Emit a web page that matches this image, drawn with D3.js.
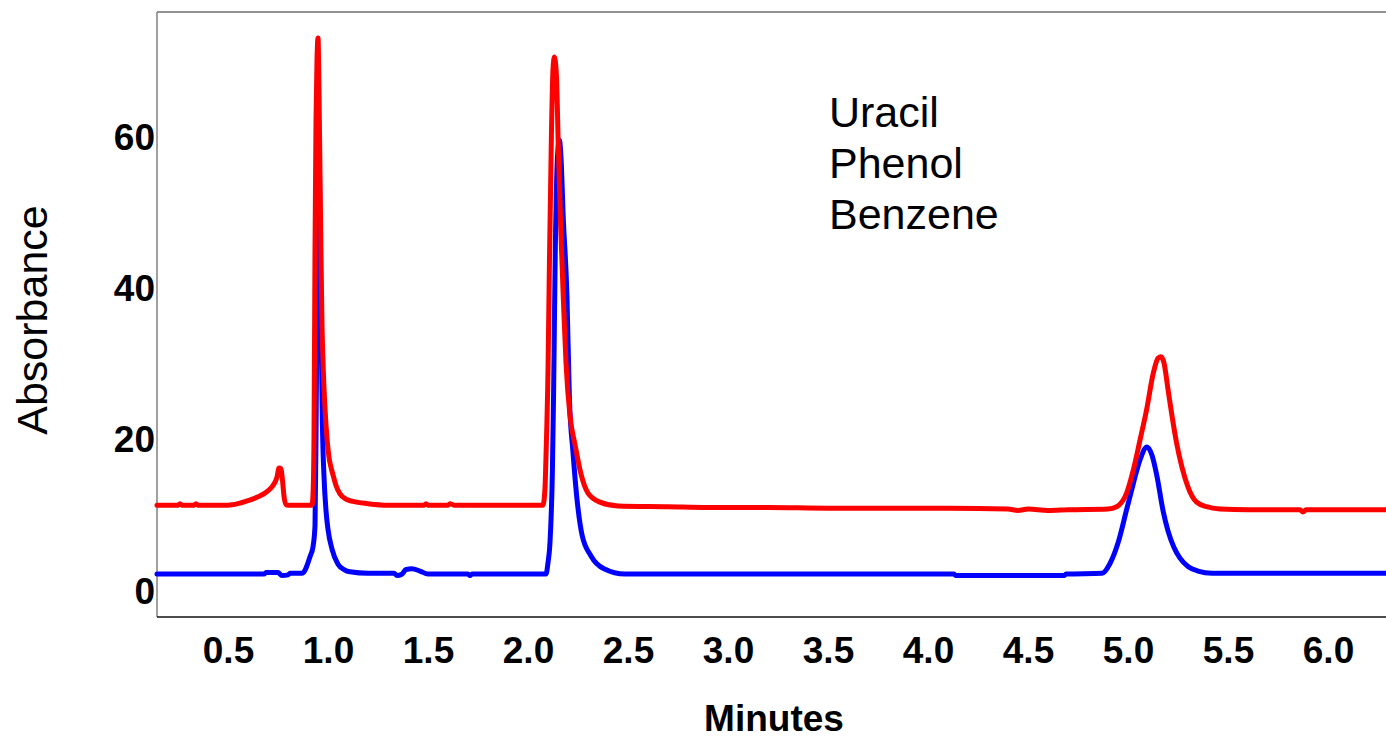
<!DOCTYPE html>
<html>
<head>
<meta charset="utf-8">
<script src="https://cdn.jsdelivr.net/npm/d3@7"></script>
<style>
  body { margin: 0; background: #fff; }
  text { font-family: "Liberation Sans", Arial, sans-serif; }
</style>
</head>
<body>
<div id="chart"></div>
<script>
// chromatogram traces [minutes, absorbance]
const redTrace = [
  [0.145, 11.2], [0.25, 11.2], [0.26, 11.4], [0.27, 11.2], [0.33, 11.2], [0.34, 11.4], [0.35, 11.2],
  [0.5, 11.2], [0.55, 11.4], [0.6, 11.8], [0.65, 12.3], [0.7, 13.1], [0.725, 13.8], [0.745, 14.9],
  [0.755, 16.1], [0.765, 16.0], [0.772, 14.6], [0.78, 12.4], [0.79, 11.3], [0.8, 11.2],
  [0.92, 11.2], [0.925, 12.6], [0.93, 20], [0.935, 45], [0.94, 62], [0.945, 70], [0.95, 72.9],
  [0.955, 66], [0.96, 55], [0.965, 44], [0.97, 35], [0.978, 28], [0.985, 24], [0.995, 20],
  [1.005, 17.5], [1.015, 16.2], [1.025, 15.2], [1.04, 13.8], [1.06, 12.7], [1.09, 12.0],
  [1.125, 11.7], [1.2, 11.4], [1.3, 11.2], [1.48, 11.2], [1.49, 11.4], [1.5, 11.2], [1.6, 11.2],
  [1.61, 11.4], [1.63, 11.2], [2.075, 11.2], [2.085, 13.5], [2.09, 17.7], [2.1, 29], [2.107, 43],
  [2.117, 60], [2.125, 68.8], [2.132, 70.4], [2.142, 68], [2.152, 58], [2.162, 49], [2.178, 37.6],
  [2.19, 30], [2.21, 23], [2.235, 19.2], [2.265, 15.3], [2.3, 12.8], [2.36, 11.6], [2.45, 11.1],
  [2.7, 11.0], [2.9, 10.9], [3.2, 10.9], [3.5, 10.8], [3.8, 10.8], [4.1, 10.8], [4.4, 10.7],
  [4.45, 10.5], [4.5, 10.7], [4.6, 10.5], [4.7, 10.6], [4.9, 10.7], [4.943, 11.0], [4.993, 12.8],
  [5.027, 15.9], [5.06, 19.8], [5.093, 23.8], [5.127, 28.7], [5.15, 30.6], [5.165, 30.8],
  [5.18, 30.0], [5.2, 26.5], [5.22, 23.0], [5.243, 19.4], [5.27, 16.2], [5.3, 13.6], [5.343, 11.6],
  [5.393, 11.0], [5.46, 10.7], [5.6, 10.6], [5.86, 10.6], [5.875, 10.3], [5.89, 10.6], [6.29, 10.6]
]

const blueTrace = [
  [0.145, 2.1], [0.68, 2.1], [0.69, 2.3], [0.75, 2.3], [0.77, 1.9], [0.8, 2.0], [0.81, 2.2],
  [0.87, 2.2], [0.885, 2.6], [0.9, 3.6], [0.91, 4.4], [0.925, 5.7], [0.935, 8.5], [0.94, 20],
  [0.945, 38], [0.95, 52], [0.956, 56], [0.962, 44], [0.967, 32], [0.972, 22], [0.98, 15],
  [0.99, 10.5], [1.0, 8], [1.02, 5.4], [1.05, 3.4], [1.08, 2.7], [1.11, 2.4], [1.2, 2.2],
  [1.33, 2.2], [1.345, 1.9], [1.37, 2.1], [1.39, 2.7], [1.42, 2.8], [1.46, 2.5], [1.5, 2.1],
  [1.7, 2.1], [1.71, 1.9], [1.72, 2.1], [2.09, 2.1], [2.1, 3.6], [2.11, 6.3], [2.122, 15.8],
  [2.128, 26], [2.136, 44], [2.148, 57.5], [2.157, 59.4], [2.167, 56], [2.175, 50], [2.195, 38.6],
  [2.207, 25.4], [2.225, 18.2], [2.245, 12], [2.27, 7.3], [2.315, 4.5], [2.38, 2.8], [2.485, 2.1],
  [4.13, 2.1], [4.14, 1.9], [4.68, 1.9], [4.69, 2.1], [4.87, 2.2], [4.91, 3.5], [4.95, 6.2],
  [4.993, 10.6], [5.027, 14.1], [5.06, 17.2], [5.095, 18.9], [5.12, 17.8], [5.145, 15.0],
  [5.175, 10.5], [5.2, 7.8], [5.23, 5.6], [5.26, 4.2], [5.3, 3.1], [5.35, 2.5], [5.42, 2.2],
  [6.29, 2.2]
]

const xTicks = [0.5, 1.0, 1.5, 2.0, 2.5, 3.0, 3.5, 4.0, 4.5, 5.0, 5.5, 6.0]
const yTicks = [0, 20, 40, 60]
const legendLabels = ["Uracil", "Phenol", "Benzene"]

// sizes
let width = 1386
let height = 738
let margin = {top: 12, right: 0, bottom: 121, left: 157}
let w = width - margin.left - margin.right
let h = height - margin.top - margin.bottom

let svg = d3.select("#chart")
  .append("svg")
  .attr("width", width)
  .attr("height", height)

let g = svg.append("g")
  .attr("transform", `translate(${margin.left},${margin.top})`)

let x = d3.scaleLinear().domain([0.145, 6.29]).range([0, w])
let y = d3.scaleLinear().domain([-3.57, 76.35]).range([h, 0])

// x axis, labels only
g.append("g")
  .attr("transform", `translate(0,${h})`)
  .call(d3.axisBottom(x).tickValues(xTicks).tickFormat(d3.format(".1f")).tickSize(0))
  .call(a => a.select(".domain").remove())
  .selectAll("text")
    .attr("y", 46)
    .attr("dy", 0)
    .style("font-size", "37px")
    .style("font-weight", "bold")
    .style("font-family", "'Liberation Sans', Arial, sans-serif")
    .attr("fill", "#000")

// y axis, labels only
g.append("g")
  .call(d3.axisLeft(y).tickValues(yTicks).tickSize(0))
  .call(a => a.select(".domain").remove())
  .selectAll("text")
    .attr("x", -2)
    .attr("dy", "0.36em")
    .style("font-size", "37px")
    .style("font-weight", "bold")
    .style("font-family", "'Liberation Sans', Arial, sans-serif")
    .attr("fill", "#000")

// frame: top and left grey, bottom dark
g.append("line").attr("x1", 0).attr("x2", w).attr("y1", 0).attr("y2", 0)
  .attr("stroke", "#6e6e6e").attr("stroke-width", 1.5)
g.append("line").attr("x1", 0).attr("x2", 0).attr("y1", 0).attr("y2", h)
  .attr("stroke", "#808080").attr("stroke-width", 1.5)
g.append("line").attr("x1", 0).attr("x2", w).attr("y1", h).attr("y2", h)
  .attr("stroke", "#111").attr("stroke-width", 1.5)

let line = d3.line()
  .x(d => x(d[0]))
  .y(d => y(d[1]))
  .curve(d3.curveMonotoneX)

g.append("path")
  .datum(blueTrace)
  .attr("d", line)
  .attr("fill", "none")
  .attr("stroke", "#0000ff")
  .attr("stroke-width", 5)
  .attr("stroke-linejoin", "round")
  .attr("stroke-linecap", "round")

g.append("path")
  .datum(redTrace)
  .attr("d", line)
  .attr("fill", "none")
  .attr("stroke", "#ff0000")
  .attr("stroke-width", 5)
  .attr("stroke-linejoin", "round")
  .attr("stroke-linecap", "round")

// compound labels
svg.append("g")
  .selectAll("text")
  .data(legendLabels)
  .enter()
  .append("text")
  .attr("x", 829)
  .attr("y", (d, i) => 127 + i * 51)
  .style("font-size", "43px")
  .attr("fill", "#000")
  .text(d => d)

// axis titles
svg.append("text")
  .attr("x", 774)
  .attr("y", 731)
  .attr("text-anchor", "middle")
  .style("font-size", "37px")
  .style("font-weight", "bold")
  .text("Minutes")

svg.append("text")
  .attr("transform", "translate(47,320) rotate(-90)")
  .attr("text-anchor", "middle")
  .style("font-size", "43px")
  .text("Absorbance")
</script>
</body>
</html>
